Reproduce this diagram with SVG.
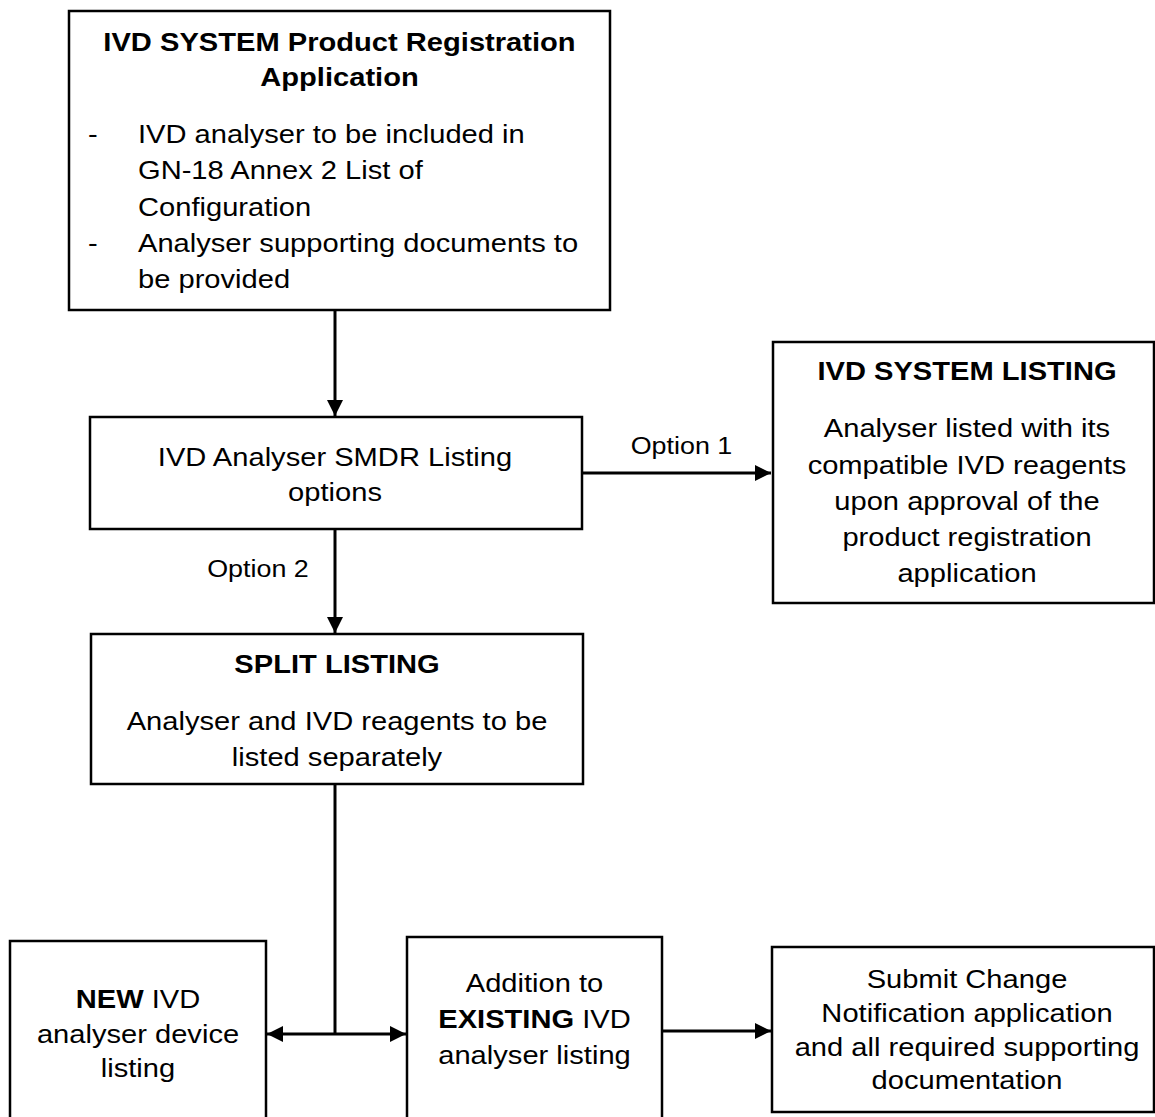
<svg xmlns="http://www.w3.org/2000/svg" width="1155" height="1117" viewBox="0 0 1155 1117">
  <style>
    .box { fill: #ffffff; stroke: #000000; stroke-width: 2.5; }
    .t { font-family: "Liberation Sans", Arial, sans-serif; font-size: 26px; fill: #000000; }
    .c { text-anchor: middle; }
    .b { font-weight: bold; }
    .lbl { font-family: "Liberation Sans", Arial, sans-serif; font-size: 24px; fill: #000000; text-anchor: middle; }
    .conn { fill: none; stroke: #000000; stroke-width: 3; }
  </style>
  <defs>
    <marker id="arr" markerUnits="userSpaceOnUse" markerWidth="17" markerHeight="17" refX="16" refY="8" orient="auto-start-reverse">
      <path d="M0,0 L16,8 L0,16 Z" fill="#000000"/>
    </marker>
  </defs>
  <rect width="1155" height="1117" fill="#ffffff"/>

  <g id="connectors">
    <path class="conn" d="M335,310 V416" marker-end="url(#arr)"/>
    <path class="conn" d="M582,473 H771" marker-end="url(#arr)"/>
    <path class="conn" d="M335,529 V633" marker-end="url(#arr)"/>
    <path class="conn" d="M335,784 V1034"/>
    <path class="conn" d="M267,1034 H406" marker-start="url(#arr)" marker-end="url(#arr)"/>
    <path class="conn" d="M662,1031 H771" marker-end="url(#arr)"/>
    <g transform="translate(681.5 0) scale(1.12 1)"><text class="lbl" x="0" y="454">Option 1</text></g>
    <g transform="translate(258 0) scale(1.12 1)"><text class="lbl" x="0" y="577">Option 2</text></g>
  </g>

  <g id="node-registration">
    <rect class="box" x="69" y="11" width="541" height="299"/>
    <g transform="translate(339.5 0) scale(1.12 1)">
      <text class="t c b" x="0" y="51">IVD SYSTEM Product Registration</text>
      <text class="t c b" x="0" y="86">Application</text>
    </g>
    <g transform="translate(88 0) scale(1.12 1)">
      <text class="t" x="0" y="143">-</text>
      <text class="t" x="0" y="252">-</text>
    </g>
    <g transform="translate(138 0) scale(1.12 1)">
      <text class="t" x="0" y="143">IVD analyser to be included in</text>
      <text class="t" x="0" y="179">GN-18 Annex 2 List of</text>
      <text class="t" x="0" y="216">Configuration</text>
      <text class="t" x="0" y="252">Analyser supporting documents to</text>
      <text class="t" x="0" y="288">be provided</text>
    </g>
  </g>

  <g id="node-smdr">
    <rect class="box" x="90" y="417" width="492" height="112"/>
    <g transform="translate(335 0) scale(1.12 1)">
      <text class="t c" x="0" y="466">IVD Analyser SMDR Listing</text>
      <text class="t c" x="0" y="501">options</text>
    </g>
  </g>

  <g id="node-system-listing">
    <rect class="box" x="773" y="342" width="381" height="261"/>
    <g transform="translate(967 0) scale(1.12 1)">
      <text class="t c b" x="0" y="380">IVD SYSTEM LISTING</text>
      <text class="t c" x="0" y="437">Analyser listed with its</text>
      <text class="t c" x="0" y="474">compatible IVD reagents</text>
      <text class="t c" x="0" y="510">upon approval of the</text>
      <text class="t c" x="0" y="546">product registration</text>
      <text class="t c" x="0" y="582">application</text>
    </g>
  </g>

  <g id="node-split">
    <rect class="box" x="91" y="634" width="492" height="150"/>
    <g transform="translate(337 0) scale(1.12 1)">
      <text class="t c b" x="0" y="673">SPLIT LISTING</text>
      <text class="t c" x="0" y="730">Analyser and IVD reagents to be</text>
      <text class="t c" x="0" y="766">listed separately</text>
    </g>
  </g>

  <g id="node-new">
    <rect class="box" x="10" y="941" width="256" height="200"/>
    <g transform="translate(138 0) scale(1.12 1)">
      <text class="t c" x="0" y="1008"><tspan class="b">NEW</tspan> IVD</text>
      <text class="t c" x="0" y="1043">analyser device</text>
      <text class="t c" x="0" y="1077">listing</text>
    </g>
  </g>

  <g id="node-existing">
    <rect class="box" x="407" y="937" width="255" height="200"/>
    <g transform="translate(534.5 0) scale(1.12 1)">
      <text class="t c" x="0" y="992">Addition to</text>
      <text class="t c" x="0" y="1028"><tspan class="b">EXISTING</tspan> IVD</text>
      <text class="t c" x="0" y="1064">analyser listing</text>
    </g>
  </g>

  <g id="node-submit">
    <rect class="box" x="772" y="947" width="382" height="165"/>
    <g transform="translate(967 0) scale(1.12 1)">
      <text class="t c" x="0" y="988">Submit Change</text>
      <text class="t c" x="0" y="1022">Notification application</text>
      <text class="t c" x="0" y="1056">and all required supporting</text>
      <text class="t c" x="0" y="1089">documentation</text>
    </g>
  </g>
</svg>
